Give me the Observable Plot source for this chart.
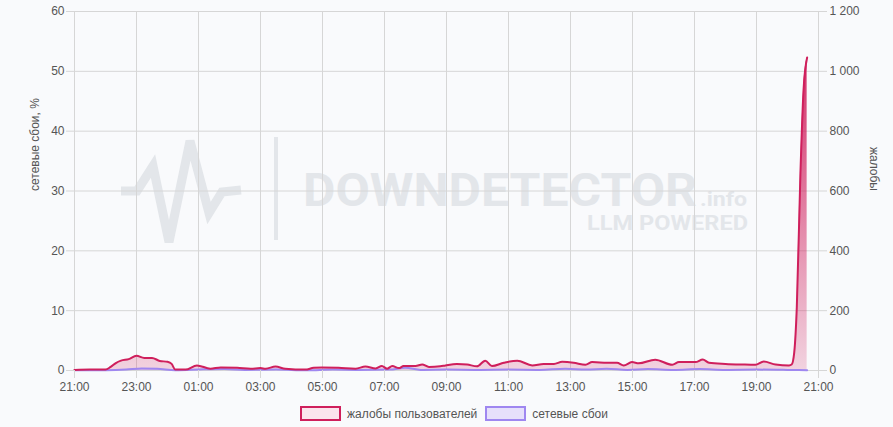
<!DOCTYPE html>
<html>
<head>
<meta charset="utf-8">
<script src="https://cdn.jsdelivr.net/npm/d3@7"></script>
<script src="https://cdn.jsdelivr.net/npm/@observablehq/plot@0.6"></script>
<style>
  html, body { margin: 0; padding: 0; background: #f9fafc; }
  body { font-family: "Liberation Sans", Arial, sans-serif; }
  #wrap { position: relative; width: 893px; height: 427px; overflow: hidden; }
  #wm { position: absolute; left: 0; top: 0; }
  #chart { position: absolute; left: 0; top: 0; }
  #legend { position: absolute; left: 0; top: 406px; width: 893px; display: flex; justify-content: center;
            padding-left: 15px; box-sizing: border-box; font-size: 12px; color: #555; }
  .item { display: flex; align-items: center; margin: 0 4px; }
  .sw { width: 37px; height: 11px; margin-right: 6px; }
</style>
</head>
<body>
<div id="wrap">
  <svg id="wm" width="893" height="427">
    <polyline points="121,191 137,191 153,166 169,242 190,141 209,213 222,192 241,190" fill="none" stroke="#e3e6ea" stroke-width="9"/>
    <rect x="274" y="137" width="4" height="103" fill="#e3e6ea"/>
    <text font-family="Roboto, sans-serif" font-weight="bold" fill="#e3e6ea"><tspan x="303" y="206" font-size="46" textLength="394" lengthAdjust="spacingAndGlyphs">DOWNDETECTOR</tspan><tspan x="700" y="206" font-size="21" textLength="47" lengthAdjust="spacingAndGlyphs">.info</tspan><tspan x="587" y="230" font-size="21" textLength="161" lengthAdjust="spacingAndGlyphs">LLM POWERED</tspan></text>
  </svg>
  <div id="chart"></div>
  <div id="legend">
    <div class="item"><div class="sw" style="border:2px solid #cf1f5c;background:#fbe4ed"></div>жалобы пользователей</div>
    <div class="item"><div class="sw" style="border:2px solid #9f87f0;background:#e6e0fb"></div>сетевые сбои</div>
  </div>
</div>
<script>
// ---- data ----
const complaintTimes = ["21:00","21:30","22:00","22:10","22:20","22:30","22:45","23:00","23:15","23:30","23:45",
  "00:00","00:08","00:15","00:35","00:57","01:23","01:43","02:15","02:41","03:00","03:10","03:29","03:48",
  "04:27","04:43","04:59","05:31","06:04","06:23","06:43","06:55","07:05","07:15","07:28","07:37","08:00",
  "08:13","08:26","08:48","08:58","09:20","09:40","09:59","10:15","10:28","10:51","11:17","11:46","12:08",
  "12:28","12:44","13:06","13:29","13:42","14:11","14:30","14:43","14:59","15:12","15:44","16:17","16:30",
  "17:02","17:16","17:28","18:00","18:32","18:58","19:14","19:37","20:03","20:08","20:13","20:18","20:25",
  "20:31","20:38"];
const complaints = [2,3,3,12,25,33,38,49,42,42,32,
  29,22,3,3,17,6,10,9,6,8,6,13,6,
  3,9,10,9,6,13,7,15,6,15,8,15,15,
  20,12,14,17,22,20,14,33,15,26,33,17,22,
  22,29,26,19,28,26,26,17,28,24,36,19,28,
  28,37,26,22,20,19,30,20,17,20,60,211,658,
  936,1046];
const failureTimes = ["21:00","22:00","22:40","23:10","23:40","00:15","01:10","01:50","02:30","03:30","04:30",
  "05:20","06:10","07:10","07:40","08:10","09:00","10:00","11:00","12:00","12:50","13:30","14:10","14:50",
  "15:30","16:20","17:10","18:00","19:00","20:00","20:38"];
const failures = [0.05,0.05,0.15,0.35,0.3,0.05,0.2,0.25,0.1,0.15,0.05,
  0.15,0.1,0.15,0.45,0.1,0.15,0.1,0.15,0.1,0.3,0.15,0.3,0.1,
  0.25,0.1,0.25,0.1,0.15,0.1,0.05];
const xTickLabels = ["21:00","23:00","01:00","03:00","05:00","07:00","09:00","11:00","13:00","15:00","17:00","19:00","21:00"];
const yTicksLeft = [0,10,20,30,40,50,60];
const complaintsPerPercent = 20; // right axis 0–1200 against left 0–60

// ---- helpers ----
function parseSeq(list) {
  let day = 0, prev = -1;
  return list.map(s => {
    const [h, m] = s.split(":").map(Number);
    const mins = h * 60 + m;
    if (mins < prev) day++;
    prev = mins;
    return new Date(Date.UTC(2024, 0, 1 + day, h, m));
  });
}
const cT = parseSeq(complaintTimes);
const fT = parseSeq(failureTimes);
const xT = parseSeq(xTickLabels);
const compData = cT.map((t, i) => ({t, v: complaints[i] / complaintsPerPercent}));
const failData = fT.map((t, i) => ({t, v: failures[i]}));
const ru = d3.formatLocale({decimal: ",", thousands: "\u00a0", grouping: [3], currency: ["", ""]});
const fmt = ru.format(",");
const grid = "#d6d6d6";
const txt = "#555";

const plot = Plot.plot({
  width: 893, height: 398,
  marginLeft: 74, marginRight: 75, marginTop: 11, marginBottom: 28,
  style: {background: "transparent", fontFamily: "'Liberation Sans', Arial, sans-serif", fontSize: "12px", color: txt},
  x: {type: "utc", domain: [xT[0], xT[xT.length - 1]]},
  y: {domain: [0, 60]},
  marks: [
    Plot.gridX(xT, {stroke: grid, strokeOpacity: 1}),
    Plot.gridY(yTicksLeft, {stroke: grid, strokeOpacity: 1}),
    Plot.areaY(failData, {x: "t", y: "v", fill: "#e6e0fb", fillOpacity: 0.7, curve: "monotone-x"}),
    Plot.areaY(compData, {x: "t", y: "v", fill: "url(#cg)", curve: "monotone-x"}),
    Plot.lineY(failData, {x: "t", y: "v", stroke: "#9f87f0", strokeWidth: 2, curve: "monotone-x"}),
    Plot.lineY(compData, {x: "t", y: "v", stroke: "#cf1f5c", strokeWidth: 2, curve: "monotone-x"}),
    Plot.axisX(xT, {tickFormat: d3.utcFormat("%H:%M"), tickSize: 8, tickPadding: 4, stroke: grid, fill: txt, label: null}),
    Plot.axisY(yTicksLeft, {anchor: "left", tickSize: 8, tickPadding: 2, stroke: grid, fill: txt, label: null}),
    Plot.axisY(yTicksLeft, {anchor: "right", tickSize: 8, tickPadding: 3, stroke: grid, fill: txt, label: null,
      tickFormat: d => fmt(d * complaintsPerPercent)}),
    Plot.text(["сетевые сбои, %"], {text: d => d, frameAnchor: "left", dx: -39, rotate: -90, fill: txt, fontSize: 12}),
    Plot.text(["жалобы"], {text: d => d, frameAnchor: "right", dx: 55, rotate: 90, fill: txt, fontSize: 12})
  ]
});
const ns = "http://www.w3.org/2000/svg";
const defs = document.createElementNS(ns, "defs");
defs.innerHTML = '<linearGradient id="cg" x1="0" y1="0" x2="0" y2="1">' +
  '<stop offset="0" stop-color="#cf1f5c" stop-opacity="0.92"/>' +
  '<stop offset="1" stop-color="#cf1f5c" stop-opacity="0.18"/></linearGradient>';
plot.insertBefore(defs, plot.firstChild);
document.getElementById("chart").appendChild(plot);
</script>
</body>
</html>
